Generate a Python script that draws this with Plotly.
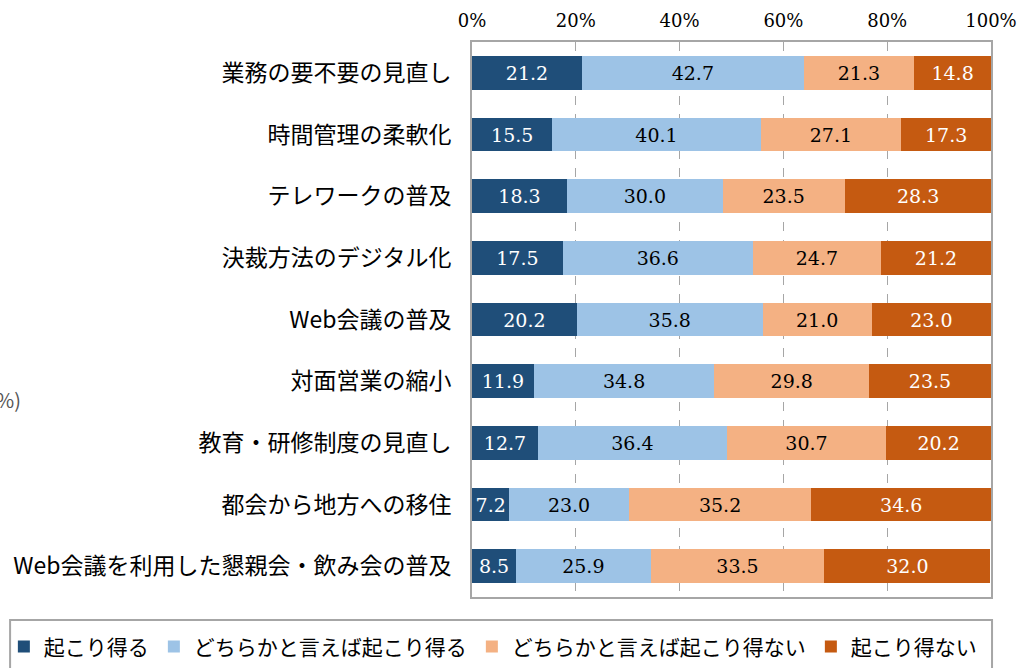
import plotly.graph_objects as go

categories = ["業務の要不要の見直し", "時間管理の柔軟化", "テレワークの普及", "決裁方法のデジタル化",
              "Web会議の普及", "対面営業の縮小", "教育・研修制度の見直し", "都会から地方への移住",
              "Web会議を利用した懇親会・飲み会の普及"]
series_names = ["起こり得る", "どちらかと言えば起こり得る", "どちらかと言えば起こり得ない", "起こり得ない"]
v_likely = [21.2, 15.5, 18.3, 17.5, 20.2, 11.9, 12.7, 7.2, 8.5]
v_somewhat_likely = [42.7, 40.1, 30.0, 36.6, 35.8, 34.8, 36.4, 23.0, 25.9]
v_somewhat_unlikely = [21.3, 27.1, 23.5, 24.7, 21.0, 29.8, 30.7, 35.2, 33.5]
v_unlikely = [14.8, 17.3, 28.3, 21.2, 23.0, 23.5, 20.2, 34.6, 32.0]
tick_vals = [0, 20, 40, 60, 80, 100]
tick_text = ["0%", "20%", "40%", "60%", "80%", "100%"]

colors = ["#1F4E79", "#9DC3E6", "#F4B183", "#C55A11"]
text_colors = ["white", "black", "black", "white"]
all_vals = [v_likely, v_somewhat_likely, v_somewhat_unlikely, v_unlikely]

fig = go.Figure()
for name, vals, c, tc in zip(series_names, all_vals, colors, text_colors):
    fig.add_trace(go.Bar(
        y=categories, x=vals, name=name, orientation="h",
        marker=dict(color=c, line=dict(width=0)),
        text=[f"{v:.1f}" for v in vals], textposition="inside",
        insidetextanchor="middle", constraintext="none",
        textfont=dict(family="DejaVu Serif", size=19, color=tc),
        hoverinfo="skip",
    ))

fig.update_layout(
    barmode="stack", bargap=0.45,
    width=1018, height=668,
    margin=dict(l=472, r=27, t=42, b=71, autoexpand=False),
    plot_bgcolor="white", paper_bgcolor="white",
    showlegend=True,
    legend=dict(orientation="h", x=-0.902, xanchor="left", y=-0.090, yanchor="middle",
                font=dict(family="Noto Sans CJK JP", size=21, color="black"),
                bgcolor="rgba(0,0,0,0)", itemwidth=30, tracegroupgap=0,
                traceorder="normal"),
    xaxis=dict(side="top", range=[0, 100], tickvals=tick_vals, ticktext=tick_text,
               tickfont=dict(family="DejaVu Serif", size=18, color="black"),
               showgrid=True, gridcolor="#A6A6A6", griddash="dash", gridwidth=1,
               showline=True, linecolor="#A6A6A6", linewidth=2, mirror=True,
               zeroline=False, ticks="", ticklabelstandoff=6, fixedrange=True,
               automargin=False),
    yaxis=dict(autorange="reversed", tickfont=dict(family="Noto Sans CJK JP", size=23, color="black"),
               showline=True, linecolor="#A6A6A6", linewidth=2, mirror=True,
               ticks="", ticklabelstandoff=14, showgrid=False, fixedrange=True,
               automargin=False),
    shapes=[dict(type="rect", xref="paper", yref="paper", x0=-0.890, x1=1.002,
                 y0=-0.2, y1=-0.0414, line=dict(color="#A6A6A6", width=2),
                 fillcolor="rgba(0,0,0,0)", layer="below")],
    annotations=[dict(text="(%)", xref="paper", yref="paper", x=-0.866, y=0.355,
                      xanchor="right", yanchor="middle", showarrow=False,
                      font=dict(family="Noto Sans CJK JP", size=20, color="#555555"))],
)

fig.write_html("out.html", config={"displayModeBar": False},
               post_script="document.body.style.margin='0';document.body.style.overflow='hidden';")
